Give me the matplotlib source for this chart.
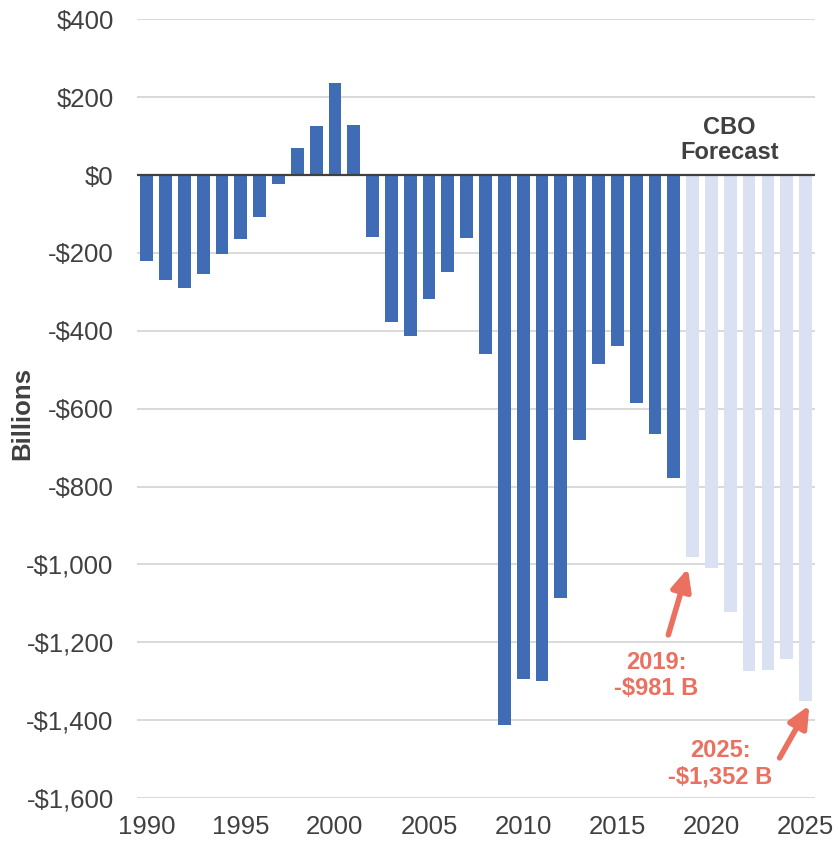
import matplotlib.pyplot as plt

# deficit anual (bilhoes de dolares), 1990-2018 real, 2019-2025 previsao CBO
anos_reais = list(range(1990, 2019))
deficit_real = [-221, -269, -290, -255, -203, -164, -107, -22, 69, 126, 236, 128,
                -158, -378, -413, -318, -248, -161, -459, -1413, -1294, -1300,
                -1087, -680, -485, -439, -585, -665, -779]
anos_previsao = list(range(2019, 2026))
deficit_previsao = [-981, -1008, -1123, -1273, -1271, -1242, -1352]

ticks_y = list(range(-1600, 401, 200))
ticks_x = list(range(1990, 2026, 5))

cor_escura = '#3F6CB4'
cor_clara = '#D9E1F2'
cor_texto = '#404040'
cor_seta = '#EA7060'

plt.rcParams['font.family'] = ['Liberation Sans', 'DejaVu Sans']

fig = plt.figure(figsize=(8.37, 8.44), dpi=100)
ax = fig.add_axes([0.164, 0.0545, 0.8097, 0.9226])

ax.bar(anos_reais, deficit_real, width=0.68, color=cor_escura, zorder=3)
ax.bar(anos_previsao, deficit_previsao, width=0.68, color=cor_clara, zorder=3)

ax.set_xlim(1989.5, 2025.5)
ax.set_ylim(-1600, 400)
ax.set_yticks(ticks_y)
ax.set_xticks(ticks_x)


def formatar(v):
    if v < 0:
        return '-${:,}'.format(-v)
    return '${:,}'.format(v)


ax.set_yticklabels([formatar(v) for v in ticks_y])
ax.tick_params(axis='both', length=0, labelsize=18.5, colors=cor_texto)
ax.tick_params(axis='y', pad=17)
ax.tick_params(axis='x', pad=12)

for s in ax.spines.values():
    s.set_visible(False)
ax.grid(axis='y', color='#CFCFCF', linewidth=1.1, zorder=0)
ax.axhline(0, color=cor_texto, linewidth=1.6, zorder=4)

fig.text(22 / 837, 1 - 413 / 844, 'Billions', rotation=90, ha='center', va='center',
         fontsize=18.5, fontweight='bold', color=cor_texto)

ax.text(2020.96, 90, 'CBO\nForecast', ha='center', va='center', fontsize=17,
        fontweight='bold', color=cor_texto, linespacing=1.15)

estilo_seta = dict(arrowstyle='-|>,head_length=1.3,head_width=0.6',
                   color=cor_seta, lw=4, capstyle='round', shrinkA=0, shrinkB=0)

ax.annotate('', xy=(2018.75, -1010), xytext=(2017.71, -1181), arrowprops=estilo_seta)
ax.text(2017.07, -1286, '2019:\n-$981 B', ha='center', va='center', fontsize=17,
        fontweight='bold', color=cor_seta, linespacing=1.15)

ax.annotate('', xy=(2025.2, -1362), xytext=(2023.62, -1497), arrowprops=estilo_seta)
ax.text(2020.48, -1512, '2025:\n-$1,352 B', ha='center', va='center', fontsize=17,
        fontweight='bold', color=cor_seta, linespacing=1.15)

fig.savefig('out.png', dpi=100)
